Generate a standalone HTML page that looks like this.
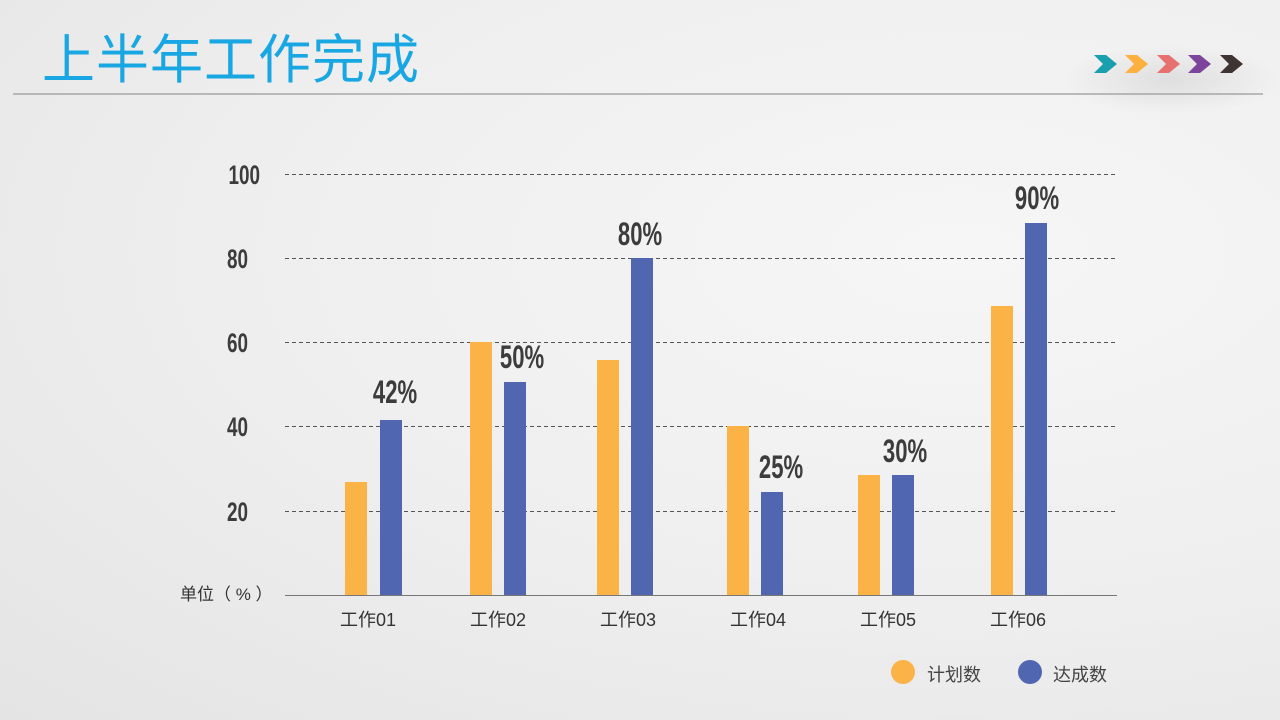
<!DOCTYPE html>
<html><head><meta charset="utf-8"><style>
html,body{margin:0;padding:0}
body{width:1280px;height:720px;overflow:hidden;background:radial-gradient(ellipse at 75% 35%,#f6f6f6 0%,#efefef 50%,#e4e4e4 100%);font-family:"Liberation Sans","Noto Sans CJK SC",sans-serif;position:relative}
.t{position:absolute;left:42px;top:22px;font-size:53px;color:#18a7e2;font-family:"Noto Sans CJK SC",sans-serif;line-height:68px;letter-spacing:1px}
</style></head><body>
<div class="t">上半年工作完成</div>
<svg width="1280" height="720" style="position:absolute;left:0;top:0">
<defs><radialGradient id="sh" cx="50%" cy="50%" r="50%"><stop offset="0" stop-color="#000" stop-opacity="0.08"/><stop offset="1" stop-color="#000" stop-opacity="0"/></radialGradient></defs>
<ellipse cx="1170" cy="80" rx="110" ry="35" fill="url(#sh)"/>
<line x1="13" y1="94" x2="1263" y2="94" stroke="#999" stroke-width="1.2"/>
<g>
<polygon points="1094,55 1106,55 1117,64 1106,73 1094,73 1103,64" fill="#1a9fad"/>
<polygon points="1125,55 1137,55 1148,64 1137,73 1125,73 1134,64" fill="#fbb040"/>
<polygon points="1157,55 1169,55 1180,64 1169,73 1157,73 1166,64" fill="#e7716f"/>
<polygon points="1188,55 1200,55 1211,64 1200,73 1188,73 1197,64" fill="#7c449a"/>
<polygon points="1220,55 1232,55 1243,64 1232,73 1220,73 1229,64" fill="#3e3431"/>
</g>
<g stroke="#555" stroke-width="1" stroke-dasharray="4,3">
<line x1="285" y1="174.5" x2="1115" y2="174.5"/>
<line x1="285" y1="258.5" x2="1115" y2="258.5"/>
<line x1="285" y1="342.5" x2="1115" y2="342.5"/>
<line x1="285" y1="426.5" x2="1115" y2="426.5"/>
<line x1="285" y1="511.5" x2="1115" y2="511.5"/>
</g>
<line x1="285" y1="595.5" x2="1117" y2="595.5" stroke="#777" stroke-width="1"/>
<g font-family="Liberation Sans" font-weight="bold" font-size="27" fill="#3c3c3c" text-anchor="end">
<text x="260" y="184" transform="translate(260,0) scale(0.7,1) translate(-260,0)">100</text>
<text x="248" y="268" transform="translate(248,0) scale(0.7,1) translate(-248,0)">80</text>
<text x="248" y="352" transform="translate(248,0) scale(0.7,1) translate(-248,0)">60</text>
<text x="248" y="436" transform="translate(248,0) scale(0.7,1) translate(-248,0)">40</text>
<text x="248" y="521" transform="translate(248,0) scale(0.7,1) translate(-248,0)">20</text>
</g>
<text x="180" y="600" font-size="17" fill="#333" font-family="Liberation Sans,Noto Sans CJK SC,sans-serif" xml:space="preserve">单位（ % ）</text>
<g fill="#fbb247">
<rect x="345" y="482" width="22" height="113"/>
<rect x="470" y="342" width="22" height="253"/>
<rect x="597" y="360" width="22" height="235"/>
<rect x="727" y="426" width="22" height="169"/>
<rect x="858" y="475" width="22" height="120"/>
<rect x="991" y="306" width="22" height="289"/>
</g>
<g fill="#5066b1">
<rect x="380" y="420" width="22" height="175"/>
<rect x="504" y="382" width="22" height="213"/>
<rect x="631" y="258" width="22" height="337"/>
<rect x="761" y="492" width="22" height="103"/>
<rect x="892" y="475" width="22" height="120"/>
<rect x="1025" y="223" width="22" height="372"/>
</g>
<g font-family="Liberation Sans" font-weight="bold" font-size="32" fill="#3c3c3c" text-anchor="middle">
<text transform="translate(395,403) scale(0.69,1)">42%</text>
<text transform="translate(522,368) scale(0.69,1)">50%</text>
<text transform="translate(640,245) scale(0.69,1)">80%</text>
<text transform="translate(781,478) scale(0.69,1)">25%</text>
<text transform="translate(905,462) scale(0.69,1)">30%</text>
<text transform="translate(1037,209) scale(0.69,1)">90%</text>
</g>
<g font-size="18" fill="#333" text-anchor="middle" font-family="Liberation Sans,Noto Sans CJK SC,sans-serif">
<text x="368" y="626">工作01</text>
<text x="498" y="626">工作02</text>
<text x="628" y="626">工作03</text>
<text x="758" y="626">工作04</text>
<text x="888" y="626">工作05</text>
<text x="1018" y="626">工作06</text>
</g>
<circle cx="903" cy="672" r="12" fill="#fbb247"/>
<circle cx="1030" cy="672" r="12" fill="#5066b1"/>
<g font-size="18" fill="#444" font-family="Noto Sans CJK SC,sans-serif">
<text x="927" y="681">计划数</text>
<text x="1053" y="681">达成数</text>
</g>
</svg>
</body></html>
